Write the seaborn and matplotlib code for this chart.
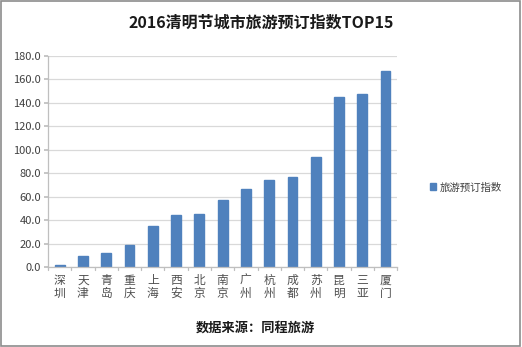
import matplotlib
matplotlib.use("Agg")
import matplotlib.pyplot as plt
import seaborn as sns
import pandas as pd
from matplotlib.patches import Rectangle, Patch

cities = ["深圳", "天津", "青岛", "重庆", "上海", "西安", "北京", "南京",
          "广州", "杭州", "成都", "苏州", "昆明", "三亚", "厦门"]
values = [1.5, 9.7, 12.2, 18.8, 35.3, 44.7, 45.2, 56.9,
          66.5, 74.5, 76.5, 94.1, 144.8, 147.3, 167.2]
yticks = [0, 20, 40, 60, 80, 100, 120, 140, 160, 180]
series_name = "旅游预订指数"
title = "2016清明节城市旅游预订指数TOP15"
source = "数据来源：同程旅游"

sns.set_theme(style="white")
plt.rcParams['font.family'] = ['Noto Sans CJK SC', 'DejaVu Sans']

df = pd.DataFrame({"city": cities, "value": values})

fig = plt.figure(figsize=(5.22, 3.47), dpi=100)
ax = fig.add_axes([0.092, 0.2305, 0.669, 0.608])
sns.barplot(data=df, x="city", y="value", color="#4F81BD", width=0.42,
            saturation=1, ax=ax, edgecolor="#4F81BD")

ax.set_ylim(0, 180)
ax.set_xlim(-0.5, len(cities) - 0.5)
ax.set_yticks(yticks)
ax.set_yticklabels([f"{v:.1f}" for v in yticks], fontsize=8, color="#404040")
ax.set_xticks(range(len(cities)))
ax.set_xticklabels(["\n".join(c) for c in cities], fontsize=8.5,
                   color="#505050", linespacing=1.0)
ax.set_xlabel("")
ax.set_ylabel("")
ax.yaxis.grid(True, color="#D9D9D9", linewidth=0.9)
ax.set_axisbelow(True)
for s in ["top", "right"]:
    ax.spines[s].set_visible(False)
for s in ["left", "bottom"]:
    ax.spines[s].set_color("#BFBFBF")
    ax.spines[s].set_linewidth(0.9)
ax.tick_params(axis="x", length=0, pad=5)
ax.tick_params(axis="y", length=3, color="#BFBFBF", left=True, pad=2)
# category boundary tick marks
for i in range(len(cities) + 1):
    ax.plot([i - 0.5, i - 0.5], [0, -2.2], color="#BFBFBF", lw=0.9,
            clip_on=False)

fig.text(0.5, 0.935, title, ha="center", va="center", fontsize=11.5,
         fontweight="bold", color="#1a1a1a")
fig.text(0.49, 0.055, source, ha="center", va="center", fontsize=9.5,
         fontweight="bold", color="#1a1a1a")

fig.legend(handles=[Patch(color="#4F81BD", label=series_name)],
           loc="center left", bbox_to_anchor=(0.805, 0.46), frameon=False,
           fontsize=7.5, handlelength=0.6, handleheight=0.6,
           handletextpad=0.4, labelcolor="#404040")

fig.patches.append(Rectangle((0.002, 0.003), 0.995, 0.993,
                             transform=fig.transFigure, fill=False,
                             edgecolor="#8C8C8C", linewidth=1.2))

fig.savefig("out.png", dpi=100)
